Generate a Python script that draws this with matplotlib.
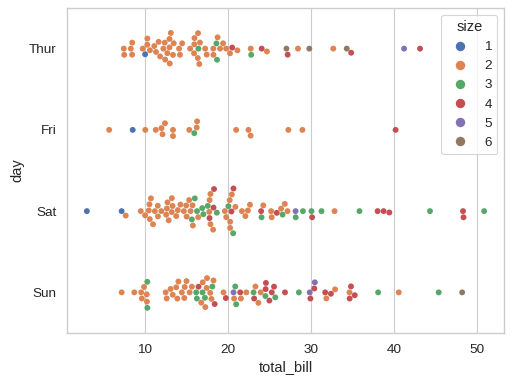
import matplotlib
matplotlib.use("Agg")
import matplotlib.pyplot as plt
import seaborn as sns
import pandas as pd

day_order = ["Thur", "Fri", "Sat", "Sun"]
size_order = ["1", "2", "3", "4", "5", "6"]

thur_bill = [27.2, 22.76, 17.29, 19.44, 16.66, 10.07, 32.68, 15.98, 34.83, 13.03, 18.28, 24.71, 21.16,
             10.65, 12.43, 24.08, 11.69, 13.42, 14.26, 15.95, 12.48, 29.8, 8.52, 14.52, 11.38, 22.82,
             19.08, 20.27, 11.17, 12.26, 18.26, 8.51, 10.33, 14.15, 16.0, 13.16, 17.47, 34.3, 41.19,
             27.05, 16.43, 8.35, 18.64, 11.87, 9.78, 7.51,
             19.81, 28.44, 15.48, 16.58, 7.56, 10.34, 43.11, 13.0, 13.51, 18.71, 12.74, 13.0, 16.4,
             20.53, 16.47, 18.78]
thur_size = [4, 2, 2, 2, 2, 1, 2, 2, 4, 2, 2, 2, 2,
             2, 2, 4, 2, 2, 2, 2, 2, 6, 2, 2, 2, 3,
             2, 2, 2, 2, 2, 2, 2, 2, 2, 2, 2, 6, 5,
             6, 2, 2, 3, 2, 2, 2,
             2, 2, 2, 2, 2, 2, 4, 2, 2, 3, 2, 2, 2,
             4, 3, 2]

fri_bill = [28.97, 22.49, 5.75, 16.32, 22.75, 40.17, 27.28, 12.03, 21.01, 12.46, 11.35, 15.38,
            12.16, 13.42, 8.58, 15.98, 13.42, 16.27, 10.09]
fri_size = [2, 2, 2, 2, 2, 4, 2, 2, 2, 2, 2, 2,
            2, 2, 1, 3, 2, 2, 2]

sat_bill = [20.65, 17.92, 20.29, 15.77, 39.42, 19.82, 17.81, 13.37, 12.69, 21.7, 19.65, 9.55, 18.35,
            15.06, 20.69, 17.78, 24.06, 16.31, 16.93, 18.69, 31.27, 16.04,
            38.01, 26.41, 11.24, 48.27, 20.29, 13.81, 11.02, 18.29, 17.59, 20.08, 16.45, 3.07, 20.23,
            15.01, 12.02, 17.07, 26.86, 25.28, 14.73, 10.51, 17.92,
            44.3, 22.42, 20.92, 15.36, 20.49, 25.21, 18.24, 14.31, 14.0, 7.25,
            10.59, 10.63, 50.81, 15.81,
            26.59, 38.73, 24.27, 12.76, 30.06, 25.89, 48.33, 13.27, 28.17, 12.9, 28.15, 11.59, 7.74, 30.14,
            20.45, 13.28, 22.12, 24.01, 15.69, 11.61, 10.77, 15.53, 10.07, 12.6, 32.83, 35.83, 29.03,
            27.18, 22.67, 17.82]
sat_size = [3, 2, 2, 2, 4, 2, 4, 2, 2, 2, 2, 2, 4,
            2, 4, 2, 3, 3, 3, 3, 3, 3,
            4, 2, 2, 4, 2, 2, 2, 4, 3, 3, 2, 1, 2,
            2, 2, 3, 2, 2, 2, 2, 2,
            3, 2, 2, 2, 2, 2, 2, 2, 2, 1,
            2, 2, 3, 2,
            3, 4, 2, 2, 3, 4, 4, 2, 3, 2, 5, 2, 2, 4,
            4, 2, 2, 4, 3, 2, 2, 2, 2, 2, 2, 3, 3,
            2, 2, 2]

sun_bill = [16.99, 10.34, 21.01, 23.68, 24.59, 25.29, 8.77, 26.88, 15.04, 14.78, 10.27, 35.26, 15.42,
            18.43, 14.83, 21.58, 10.33, 16.29, 16.97,
            17.46, 13.94, 9.68, 30.4, 18.29, 22.23, 32.4, 28.55, 18.04, 12.54, 10.29, 34.81, 9.94,
            25.56, 19.49,
            38.07, 23.95, 25.71, 17.31, 29.93,
            14.07, 13.13, 17.26, 24.55, 19.77, 29.85, 48.17, 25.0, 13.39, 16.49, 21.5, 12.66, 16.21,
            13.81, 17.51, 24.52, 20.76, 31.71,
            7.25, 31.85, 16.82, 32.9, 17.89, 14.48, 9.6, 34.63, 34.65, 23.33, 45.35, 23.17, 40.55,
            20.69, 20.9, 30.46, 18.15, 23.1, 15.69]
sun_size = [2, 3, 3, 2, 4, 4, 2, 4, 2, 2, 2, 4, 2,
            4, 2, 2, 3, 3, 3,
            2, 2, 2, 4, 2, 2, 4, 3, 2, 2, 2, 4, 2,
            4, 2,
            3, 2, 3, 2, 4,
            2, 2, 3, 4, 4, 5, 6, 4, 2, 4, 4, 2, 3,
            2, 2, 3, 2, 4,
            2, 2, 2, 2, 2, 2, 2, 2, 4, 2, 3, 4, 2,
            5, 3, 5, 3, 3, 2]

bills = thur_bill + fri_bill + sat_bill + sun_bill
sizes = thur_size + fri_size + sat_size + sun_size
days = (["Thur"] * len(thur_bill) + ["Fri"] * len(fri_bill)
        + ["Sat"] * len(sat_bill) + ["Sun"] * len(sun_bill))

df = pd.DataFrame({"total_bill": bills, "day": days, "size": [str(s) for s in sizes]})

sns.set_theme(style="whitegrid", font_scale=1.1)
plt.rcParams["font.family"] = ["Liberation Sans", "DejaVu Sans"]

fig = plt.figure(figsize=(6.4, 385 / 80), dpi=80)
ax = fig.add_axes([67 / 512, 1 - 333 / 385, (504 - 67) / 512, (333 - 8) / 385])
sns.swarmplot(data=df, x="total_bill", y="day", hue="size", order=day_order,
              hue_order=size_order, palette="deep", size=5.3, ax=ax)
ax.legend(title="size", loc="upper right", markerscale=1.6)
fig.savefig("out.png", dpi=80)
